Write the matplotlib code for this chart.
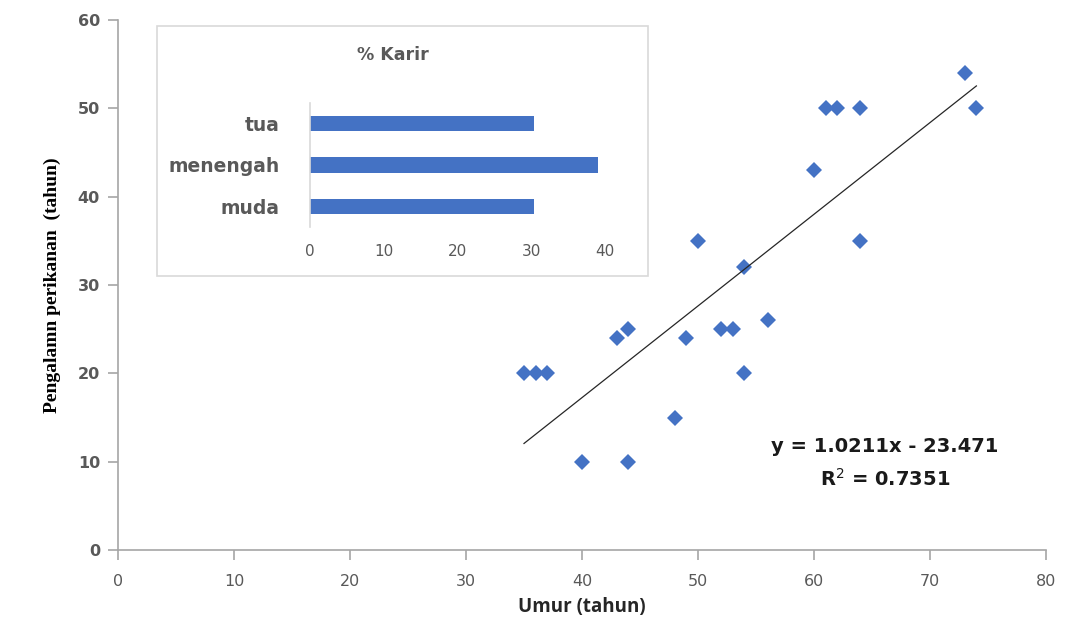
import numpy as np
import matplotlib
matplotlib.use("Agg")
import matplotlib.pyplot as plt

# data
umur = [35, 36, 37, 40, 43, 44, 44, 48, 49, 50, 52, 53, 54, 54, 56, 60, 61, 62, 64, 64, 73, 74]
pengalaman = [20, 20, 20, 10, 24, 25, 10, 15, 24, 35, 25, 25, 32, 20, 26, 43, 50, 50, 50, 35, 54, 50]

# inset bar chart
karir_cat = ['muda', 'menengah', 'tua']
karir_pct = [30.4, 39.1, 30.4]

blue = '#4472C4'
grey_txt = '#595959'
axis_col = '#A6A6A6'

fig = plt.figure(figsize=(10.67, 6.3), dpi=100)
ax = fig.add_axes([0.1106, 0.127, 0.8697, 0.841])

ax.plot(umur, pengalaman, linestyle='none', marker='D', markersize=8,
        color=blue, markeredgewidth=0)

# linear trendline
slope, icept = np.polyfit(umur, pengalaman, 1)
xs = np.array([min(umur), max(umur)])
ax.plot(xs, slope * xs + icept, color='#262626', lw=0.9)

ax.set_xlim(0, 80)
ax.set_ylim(0, 60)
ax.set_xticks(range(0, 81, 10))
ax.set_yticks(range(0, 61, 10))
for s in ['top', 'right']:
    ax.spines[s].set_visible(False)
for s in ['left', 'bottom']:
    ax.spines[s].set_color(axis_col)
    ax.spines[s].set_linewidth(1.2)
ax.tick_params(axis='both', direction='out', length=7, width=1.2, color=axis_col)
ax.tick_params(axis='x', labelsize=11.5, labelcolor=grey_txt, pad=10)
ax.tick_params(axis='y', labelsize=11.5, labelcolor=grey_txt, pad=6)
for lab in ax.get_yticklabels():
    lab.set_fontweight('bold')

ax.set_xlabel('Umur (tahun)', fontsize=13.5, fontweight='bold', color='#262626',
              family='Open Sans', labelpad=6)
ax.set_ylabel('Pengalamn perikanan  (tahun)', fontsize=14, fontweight='bold',
              color='black', family='Liberation Serif', labelpad=12)

ax.text(885 / 1067, 1 - 446 / 630, 'y = 1.0211x - 23.471', transform=fig.transFigure,
        ha='center', va='center', fontsize=14, fontweight='bold', color='#1a1a1a')
ax.text(885 / 1067, 1 - 479 / 630, 'R$^2$ = 0.7351', transform=fig.transFigure,
        ha='center', va='center', fontsize=14, fontweight='bold', color='#1a1a1a')

# inset frame
frame = plt.Rectangle((157 / 1067, 1 - 276 / 630), 491 / 1067, 250 / 630,
                      transform=fig.transFigure, facecolor='white',
                      edgecolor='#D9D9D9', lw=1.2, zorder=5)
fig.patches.append(frame)
fig.text(393 / 1067, 1 - 55 / 630, '% Karir', ha='center', va='center',
         fontsize=12.5, fontweight='bold', color=grey_txt, zorder=6)

ins = fig.add_axes([0.2905, 0.6397, 0.2765, 0.1968], zorder=6)
ins.patch.set_visible(False)
ins.barh(range(len(karir_cat)), karir_pct, height=0.37, color=blue)
ins.set_xlim(0, 40)
ins.set_ylim(-0.5, 2.5)
ins.set_yticks(range(len(karir_cat)))
ins.set_yticklabels(karir_cat, fontsize=13.5, fontweight='bold', color=grey_txt)
ins.set_xticks(range(0, 41, 10))
ins.tick_params(axis='x', length=0, labelsize=11, labelcolor=grey_txt, pad=12)
ins.tick_params(axis='y', length=0, pad=22)
for s in ['top', 'right', 'bottom']:
    ins.spines[s].set_visible(False)
ins.spines['left'].set_color('#D9D9D9')
ins.spines['left'].set_linewidth(1.2)

fig.savefig('out.png', dpi=100)
